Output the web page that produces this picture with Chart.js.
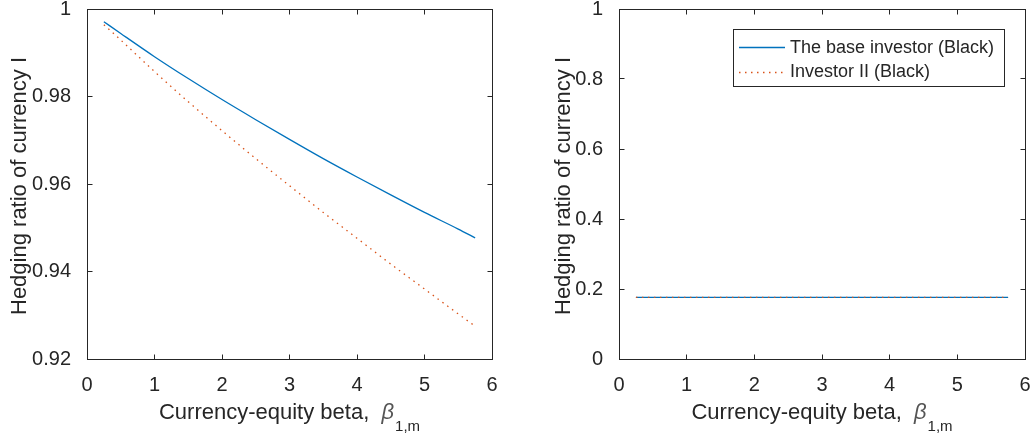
<!DOCTYPE html>
<html><head><meta charset="utf-8">
<script src="https://cdn.jsdelivr.net/npm/chart.js@4"></script>
<style>
html,body{margin:0;padding:0;background:#fff;}
#wrap{position:relative;width:1030px;height:436px;background:#fff;}
canvas{position:absolute;top:0;}
</style></head><body>
<div id="wrap">
<canvas id="c1" width="520" height="436" style="left:0"></canvas>
<canvas id="c2" width="510" height="436" style="left:520px"></canvas>
</div>
<script>
// ---- data ----
const betas     = [0.25, 0.5, 1, 1.5, 2, 2.5, 3, 3.5, 4, 4.5, 5, 5.5, 5.75];
const baseLeft  = [0.9971, 0.9944, 0.9891, 0.9841, 0.9793, 0.9747, 0.9702, 0.9658, 0.9616, 0.9575, 0.9535, 0.9497, 0.9477];
const inv2Left  = [0.9964, 0.9929, 0.9857, 0.9788, 0.9722, 0.9658, 0.9596, 0.9535, 0.9476, 0.9417, 0.9360, 0.9303, 0.9275];
const baseRight = [0.176, 0.176, 0.176, 0.176, 0.176, 0.176, 0.176, 0.176, 0.176, 0.176, 0.176, 0.176, 0.176];
const inv2Right = [0.176, 0.176, 0.176, 0.176, 0.176, 0.176, 0.176, 0.176, 0.176, 0.176, 0.176, 0.176, 0.176];
const xTicks      = [0, 1, 2, 3, 4, 5, 6];
const yTicksLeft  = [0.92, 0.94, 0.96, 0.98, 1];
const yTicksRight = [0, 0.2, 0.4, 0.6, 0.8, 1];
const seriesLabels = ['The base investor (Black)', 'Investor II (Black)'];
const yTitleText = 'Hedging ratio of currency I';
const xTitleText = 'Currency-equity beta,';
const xTitleSym = '\u03B2';
const xTitleSub = '1,m';

const BLUE = '#0072BD', RED = '#D95319', INK = '#262626';
const FONT = "'Liberation Sans', Arial, Helvetica, sans-serif";

function pts(ys){ return betas.map((b,i)=>({x:b, y:ys[i]})); }
function fmt(v){ return String(+v.toFixed(2)); }

function decoPlugin(cfg){
  return {
    id:'deco',
    afterDraw(chart){
      const ctx = chart.ctx, a = chart.chartArea, xs = chart.scales.x, ys = chart.scales.y;
      ctx.save();
      ctx.strokeStyle = INK; ctx.lineWidth = 1;
      const L = Math.floor(a.left)+0.5, R = Math.floor(a.right)+0.5, T = Math.floor(a.top)+0.5, B = Math.floor(a.bottom)+0.5;
      ctx.strokeRect(L, T, R-L, B-T);
      const TL = 5;
      ctx.beginPath();
      xTicks.forEach(v=>{ const p = Math.floor(xs.getPixelForValue(v))+0.5;
        ctx.moveTo(p,B); ctx.lineTo(p,B-TL); ctx.moveTo(p,T); ctx.lineTo(p,T+TL); });
      cfg.yTicks.forEach(v=>{ const p = Math.floor(ys.getPixelForValue(v))+0.5;
        ctx.moveTo(L,p); ctx.lineTo(L+TL,p); ctx.moveTo(R,p); ctx.lineTo(R-TL,p); });
      ctx.stroke();
      // y title
      ctx.fillStyle = INK;
      ctx.save();
      ctx.translate(cfg.yTitleX, (a.top+a.bottom)/2 + 2);
      ctx.rotate(-Math.PI/2);
      ctx.font = '22px ' + FONT;
      ctx.textAlign = 'center'; ctx.textBaseline = 'middle';
      ctx.fillText(yTitleText, 0, 0);
      ctx.restore();
      // x title with subscript
      const mainF = '22px ' + FONT, symF = 'italic 22px ' + FONT, subF = '15px ' + FONT;
      ctx.textBaseline = 'alphabetic'; ctx.textAlign = 'left';
      ctx.font = mainF; const w1 = ctx.measureText(xTitleText + '  ').width;
      ctx.font = symF;  const w2 = ctx.measureText(xTitleSym).width + 1;
      ctx.font = subF;  const w3 = ctx.measureText(xTitleSub).width;
      let x0 = (a.left + a.right)/2 - (w1+w2+w3)/2;
      const base = 419;
      ctx.font = mainF; ctx.fillText(xTitleText, x0, base);
      ctx.font = symF; ctx.fillStyle = '#555'; ctx.fillText(xTitleSym, x0 + w1, base);
      ctx.fillStyle = INK;
      ctx.font = subF; ctx.fillText(xTitleSub, x0 + w1 + w2, base + 11.5);
      // legend
      if (cfg.legend){
        const lg = cfg.legend;
        ctx.fillStyle = '#fff';
        ctx.fillRect(lg.x, lg.y, lg.w, lg.h);
        ctx.strokeStyle = INK; ctx.lineWidth = 1;
        ctx.strokeRect(lg.x+0.5, lg.y+0.5, lg.w, lg.h);
        const ds = chart.data.datasets;
        const rows = [lg.y + 18, lg.y + 42.5];
        ds.forEach((d,i)=>{
          ctx.save();
          ctx.strokeStyle = d.borderColor; ctx.lineWidth = d.borderWidth;
          ctx.setLineDash(d.borderDash || []);
          ctx.beginPath(); ctx.moveTo(lg.x+6, Math.round(rows[i])+0.5); ctx.lineTo(lg.x+52, Math.round(rows[i])+0.5); ctx.stroke();
          ctx.restore();
          ctx.fillStyle = INK; ctx.font = '18px ' + FONT;
          ctx.textAlign = 'left'; ctx.textBaseline = 'middle';
          ctx.fillText(d.label, lg.x + 57, rows[i] + 1);
        });
      }
      ctx.restore();
    }
  };
}

function makeChart(id, yData, yMin, yMax, yTicks, yAxisW, padRight, yTitleX, legend){
  return new Chart(document.getElementById(id), {
    type:'line',
    data:{ datasets:[
      { label: seriesLabels[0], data: pts(yData[0]), borderColor: BLUE, borderWidth: 1.3,
        pointRadius: 0, fill: false, cubicInterpolationMode: 'monotone', order: 2 },
      { label: seriesLabels[1], data: pts(yData[1]), borderColor: RED, borderWidth: 1.3,
        borderDash: [1.5, 4.5], pointRadius: 0, fill: false, cubicInterpolationMode: 'monotone', order: 1 }
    ]},
    options:{
      responsive:false, animation:false, devicePixelRatio:1,
      layout:{ padding:{ left:0, right:padRight, top:9, bottom:0 } },
      plugins:{ legend:{display:false}, tooltip:{enabled:false} },
      scales:{
        x:{ type:'linear', min:0, max:6,
            grid:{ display:false }, border:{ display:false },
            afterBuildTicks: s => { s.ticks = xTicks.map(v=>({value:v})); },
            afterFit: s => { s.height = 77; s.paddingLeft = 0; s.paddingRight = 0; },
            ticks:{ color: INK, font:{ family: FONT, size: 20 }, padding: 6, maxRotation:0, callback: v => fmt(v) } },
        y:{ type:'linear', min:yMin, max:yMax,
            grid:{ display:false }, border:{ display:false },
            afterBuildTicks: s => { s.ticks = yTicks.map(v=>({value:v})); },
            afterFit: s => { s.width = yAxisW; s.paddingTop = 0; s.paddingBottom = 0; },
            ticks:{ color: INK, font:{ family: FONT, size: 20 }, padding: 8, callback: v => fmt(v) } }
      }
    },
    plugins:[ decoPlugin({ yTicks, yTitleX, legend }) ]
  });
}

makeChart('c1', [baseLeft, inv2Left], 0.92, 1, yTicksLeft, 87, 28, 20, null);
makeChart('c2', [baseRight, inv2Right], 0, 1, yTicksRight, 99, 5, 44,
  { x: 213, y: 29, w: 271, h: 57 });
</script>
</body></html>
